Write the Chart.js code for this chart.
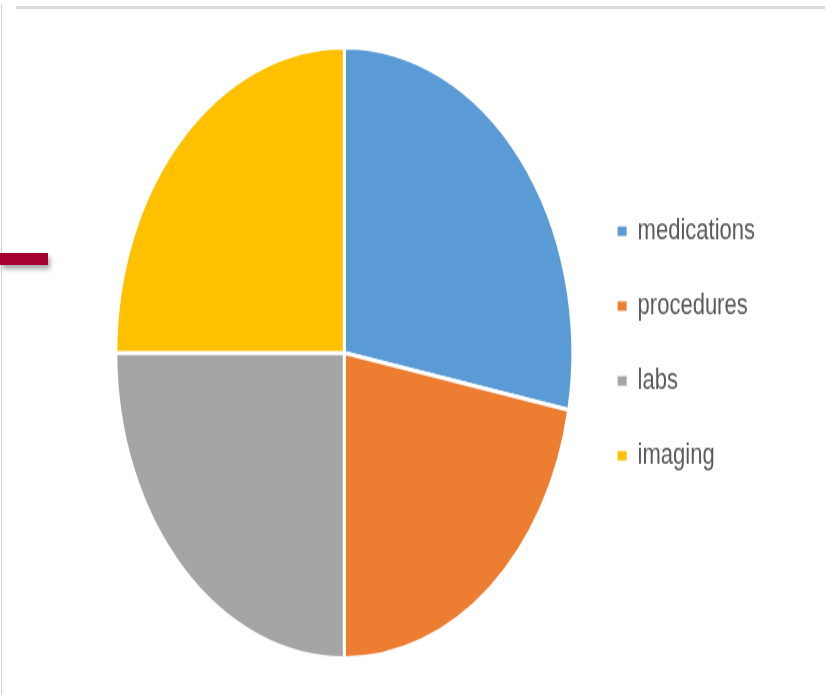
<!DOCTYPE html>
<html>
<head>
<meta charset="utf-8">
<script src="https://cdn.jsdelivr.net/npm/chart.js@4"></script>
<style>
  html, body { margin: 0; padding: 0; background: #ffffff; overflow: hidden; }
  #wrap { position: relative; width: 825px; height: 695px; }
  #c { position: absolute; left: 0; top: 0; width: 825px !important; height: 695px !important; }
  .topbar { position: absolute; left: 16px; top: 6px; width: 809px; height: 3px; background: #d9d9d9; }
  .leftline { position: absolute; left: 1px; top: 5px; width: 1px; height: 690px; background: #d4d4d4; }
  .redbar { position: absolute; left: 0; top: 253px; width: 48px; height: 12px; background: #a5002f; box-shadow: 2px 4px 5px rgba(0,0,0,0.35); }
</style>
</head>
<body>
<div id="wrap">
  <canvas id="c" width="825" height="520"></canvas>
  <div class="topbar"></div>
  <div class="leftline"></div>
  <div class="redbar"></div>
</div>
<script>
const categories = ["medications", "procedures", "labs", "imaging"];
const shares = [28, 22, 25, 25];
const sliceColors = ["#5B9BD5", "#ED7D31", "#A5A5A5", "#FFC000"];

const legendShift = {
  id: 'legendShift',
  afterLayout(chart) {
    const lg = chart.legend;
    if (lg) { lg.top -= 7; lg.bottom -= 7; }
  }
};

new Chart(document.getElementById('c'), {
  type: 'pie',
  data: {
    labels: categories,
    datasets: [{
      data: shares,
      backgroundColor: sliceColors,
      borderColor: '#ffffff',
      borderWidth: 3
    }]
  },
  options: {
    responsive: false,
    animation: false,
    layout: { padding: { left: 105, right: 60, top: 34, bottom: 26 } },
    plugins: {
      tooltip: { enabled: false },
      legend: {
        position: 'right',
        align: 'center',
        labels: {
          boxWidth: 9,
          boxHeight: 7,
          padding: 34,
          color: '#595959',
          font: { family: "'Liberation Sans Narrow', 'Liberation Sans', Arial, sans-serif", size: 22 },
          generateLabels(chart) {
            const items = Chart.overrides.pie.plugins.legend.labels.generateLabels(chart);
            items.forEach(it => { it.lineWidth = 0; it.strokeStyle = it.fillStyle; });
            return items;
          }
        }
      }
    }
  },
  plugins: [legendShift]
});
</script>
</body>
</html>
